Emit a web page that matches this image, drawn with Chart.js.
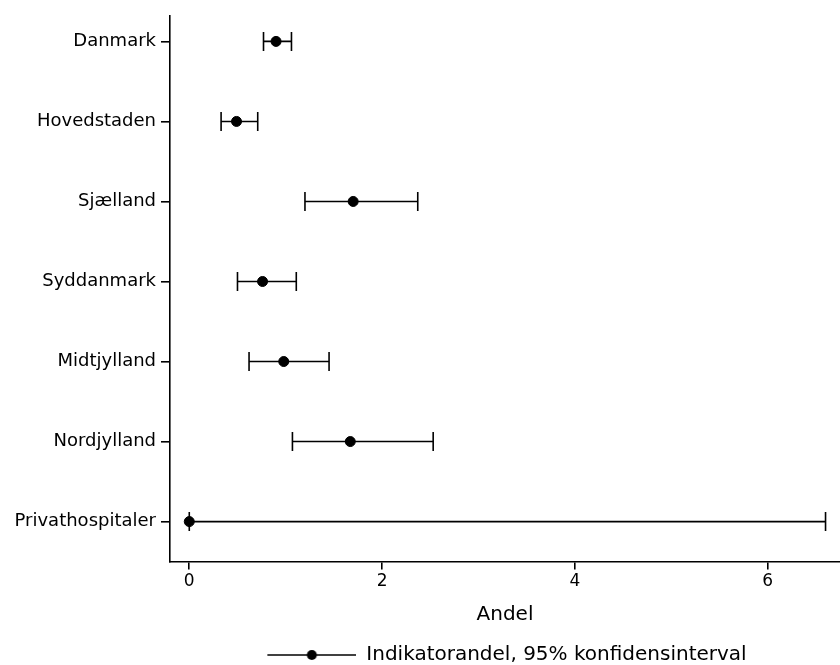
<!DOCTYPE html>
<html>
<head>
<meta charset="utf-8">
<script src="https://cdn.jsdelivr.net/npm/chart.js@4.4.0/dist/chart.umd.min.js"></script>
<style>
  html, body { margin: 0; padding: 0; background: #fff; }
  #wrap { width: 840px; height: 665px; }
</style>
</head>
<body>
<div id="wrap"><canvas id="myChart"></canvas></div>
<script>
// data
const regions = ['Danmark', 'Hovedstaden', 'Sjælland', 'Syddanmark', 'Midtjylland', 'Nordjylland', 'Privathospitaler'];
const andel = [0.90, 0.49, 1.70, 0.76, 0.98, 1.67, 0.00];
const nedre = [0.77, 0.33, 1.20, 0.50, 0.62, 1.07, 0.00];
const oevre = [1.06, 0.71, 2.37, 1.11, 1.45, 2.53, 6.60];
const xTicks = [0, 2, 4, 6];
const xTitle = 'Andel';
const legendText = 'Indikatorandel, 95% konfidensinterval';

const FONT = "'DejaVu Sans', sans-serif";
const INK = '#000';
const rowOf = i => regions.length - 1 - i;

// legend symbol: line with a dot in the middle
const legendPad = 4;
const legendLineW = 89;
const sym = document.createElement('canvas');
sym.width = legendLineW + legendPad;
sym.height = 12;
const g = sym.getContext('2d');
g.strokeStyle = INK;
g.fillStyle = INK;
g.lineWidth = 1.6;
g.beginPath(); g.moveTo(legendPad, 6); g.lineTo(sym.width, 6); g.stroke();
g.beginPath(); g.arc(legendPad + legendLineW / 2, 6, 5, 0, Math.PI * 2); g.fill();

const ciSets = regions.map((r, i) => ({
    type: 'line',
    label: r,
    data: [{ x: nedre[i], y: rowOf(i) }, { x: oevre[i], y: rowOf(i) }],
    borderColor: INK,
    borderWidth: 1.6,
    pointStyle: 'line',
    rotation: 90,
    pointRadius: 9.5,
    pointBorderWidth: 1.6,
    pointBorderColor: INK,
    fill: false,
    order: 1
}));

const pointSet = {
    type: 'scatter',
    label: legendText,
    data: andel.map((v, i) => ({ x: v, y: rowOf(i) })),
    backgroundColor: INK,
    borderColor: INK,
    pointRadius: 5,
    order: 0
};

const ctx = document.getElementById('myChart');
new Chart(ctx, {
    type: 'scatter',
    data: { datasets: [pointSet].concat(ciSets) },
    options: {
        responsive: true,
        maintainAspectRatio: false,
        animation: false,
        layout: { autoPadding: false, padding: { top: 13, right: 0, bottom: -10, left: 0 } },
        plugins: {
            tooltip: { enabled: false },
            legend: {
                position: 'bottom',
                fullSize: false,
                onClick: () => {},
                labels: {
                    usePointStyle: true,
                    pointStyleWidth: sym.width,
                    color: INK,
                    font: { family: FONT, size: 20 },
                    padding: 0,
                    generateLabels: () => [{
                        text: legendText,
                        pointStyle: sym,
                        fillStyle: INK,
                        strokeStyle: INK,
                        lineWidth: 0,
                        hidden: false,
                        datasetIndex: 0,
                        fontColor: INK
                    }]
                }
            }
        },
        scales: {
            x: {
                type: 'linear',
                min: -0.2,
                max: 6.75,
                afterBuildTicks: s => { s.ticks = xTicks.map(v => ({ value: v })); },
                grid: { drawOnChartArea: false, drawTicks: true, tickLength: 8, color: INK, lineWidth: 1.6 },
                border: { color: INK, width: 1.6 },
                ticks: { color: INK, font: { family: FONT, size: 17 }, padding: 2 },
                title: { display: true, text: xTitle, color: INK, font: { family: FONT, size: 20 }, padding: { top: 9, bottom: 18 } }
            },
            y: {
                type: 'linear',
                min: -0.5,
                max: 6.32,
                afterBuildTicks: s => { s.ticks = regions.map((r, i) => ({ value: rowOf(i) })); },
                afterFit: s => { s.width = 170; },
                grid: { drawOnChartArea: false, drawTicks: true, tickLength: 9, color: INK, lineWidth: 1.6 },
                border: { color: INK, width: 1.6 },
                ticks: {
                    color: INK,
                    font: { family: FONT, size: 18 },
                    padding: 5,
                    callback: v => regions[regions.length - 1 - v]
                }
            }
        }
    }
});
</script>
</body>
</html>
